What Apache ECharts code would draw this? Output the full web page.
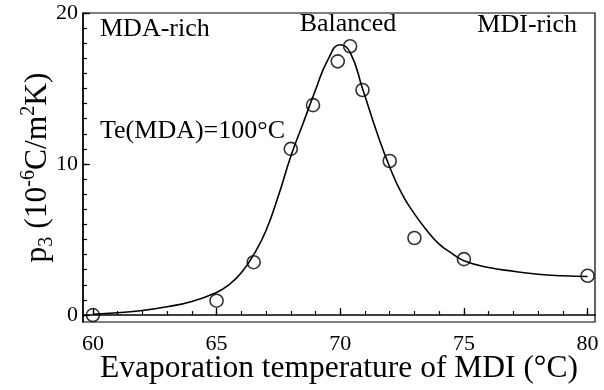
<!DOCTYPE html>
<html>
<head>
<meta charset="utf-8">
<script src="https://cdn.jsdelivr.net/npm/echarts@6/dist/echarts.min.js"></script>
<style>html,body{margin:0;padding:0;background:#fff;}#c{width:604px;height:390px;}</style>
</head>
<body>
<div id="c"></div>
<script>
// Measured points (circles)
var pointX = [60, 65, 66.5, 68, 68.9, 69.9, 70.4, 70.9, 72, 73, 75, 80];
var pointY = [0.0, 0.95, 3.5, 11.0, 13.9, 16.8, 17.8, 14.9, 10.2, 5.1, 3.7, 2.6];
// Fitted curve
var curveX = [60, 61, 62, 63, 64, 65, 65.5, 66, 66.5, 67, 67.5, 68, 68.5, 69, 69.5, 70.0, 70.4, 70.9, 71.5, 72.0, 72.5, 73, 73.5, 74, 74.5, 75, 76, 77, 78, 79, 80];
var curveY = [0.05, 0.15, 0.3, 0.55, 0.9, 1.5, 2.0, 2.8, 4.0, 5.6, 7.9, 10.5, 12.7, 14.9, 16.9, 17.9, 17.4, 15.0, 12.0, 9.8, 8.0, 6.7, 5.6, 4.7, 4.1, 3.6, 3.15, 2.9, 2.7, 2.6, 2.55];
var xMajor = [60, 65, 70, 75, 80];
var xMinor = [60,61,62,63,64,65,66,67,68,69,70,71,72,73,74,75,76,77,78,79,80];
var yMajor = [0, 10, 20];
var yMinor = [0,1,2,3,4,5,6,7,8,9,10,11,12,13,14,15,16,17,18,19,20];

var FONT = 'Liberation Serif';
var chart = echarts.init(document.getElementById('c'));
function zip(a, b) { return a.map(function (v, i) { return [v, b[i]]; }); }

var xBase = { type: 'value', min: 59.6, max: 80.3, position: 'bottom', splitLine: { show: false } };
var yBase = { type: 'value', min: -0.46, max: 20, position: 'left', splitLine: { show: false } };

chart.setOption({
  animation: false,
  grid: { left: 83, right: 9, top: 13, bottom: 65, show: true, borderColor: '#000', borderWidth: 1.2 },
  xAxis: [
    Object.assign({}, xBase, {
      axisLine: { show: true, lineStyle: { color: '#000', width: 1.5 } },
      axisTick: { show: true, inside: true, length: 7, customValues: xMajor, lineStyle: { color: '#000', width: 1.3 } },
      axisLabel: { show: true, customValues: xMajor, margin: 11, color: '#000', fontFamily: FONT, fontSize: 22 },
      name: 'Evaporation temperature of MDI (°C)', nameLocation: 'middle', nameGap: 31, nameMoveOverlap: false,
      nameTextStyle: { color: '#000', fontFamily: FONT, fontSize: 31.5 }
    }),
    Object.assign({}, xBase, {
      axisLine: { show: false },
      axisTick: { show: true, inside: true, length: 4, customValues: xMinor, lineStyle: { color: '#000', width: 1.2 } },
      axisLabel: { show: false }
    })
  ],
  yAxis: [
    Object.assign({}, yBase, {
      axisLine: { show: true, lineStyle: { color: '#000', width: 1.5 } },
      axisTick: { show: true, inside: true, length: 7, customValues: yMajor, lineStyle: { color: '#000', width: 1.3 } },
      axisLabel: { show: true, customValues: yMajor, margin: 5, color: '#000', fontFamily: FONT, fontSize: 22 },
      name: '{n|p}{sub|3}{n| (10}{sup|-6}{n|C/m}{sup|2}{n|K)}', nameLocation: 'middle', nameGap: 26, nameRotate: 90, nameMoveOverlap: false,
      nameTextStyle: {
        color: '#000', fontFamily: FONT, fontSize: 31.5,
        rich: {
          n: { fontFamily: FONT, fontSize: 31.5, color: '#000', lineHeight: 38, verticalAlign: 'middle' },
          sub: { fontFamily: FONT, fontSize: 20, color: '#000', lineHeight: 38, verticalAlign: 'bottom' },
          sup: { fontFamily: FONT, fontSize: 20, color: '#000', lineHeight: 38, verticalAlign: 'top' }
        }
      }
    }),
    Object.assign({}, yBase, {
      axisLine: { show: false },
      axisTick: { show: true, inside: true, length: 4, customValues: yMinor, lineStyle: { color: '#000', width: 1.2 } },
      axisLabel: { show: false }
    })
  ],
  series: [
    {
      type: 'line', xAxisIndex: 0, yAxisIndex: 0, data: zip(curveX, curveY),
      smooth: 0.5, symbol: 'none', lineStyle: { color: '#000', width: 1.6 }, z: 2
    },
    {
      type: 'scatter', xAxisIndex: 0, yAxisIndex: 0, data: zip(pointX, pointY),
      symbol: 'circle', symbolSize: 13,
      itemStyle: { color: 'rgba(0,0,0,0)', borderColor: '#000', borderWidth: 1.6 }, z: 3
    }
  ],
  graphic: [
    { type: 'text', x: 100, y: 29, style: { text: 'MDA-rich', fontFamily: FONT, fontSize: 26, fill: '#000', align: 'left', verticalAlign: 'middle' } },
    { type: 'text', x: 348, y: 24, style: { text: 'Balanced', fontFamily: FONT, fontSize: 26, fill: '#000', align: 'center', verticalAlign: 'middle' } },
    { type: 'text', x: 577, y: 25, style: { text: 'MDI-rich', fontFamily: FONT, fontSize: 26, fill: '#000', align: 'right', verticalAlign: 'middle' } },
    { type: 'text', x: 100, y: 131, style: { text: 'Te(MDA)=100°C', fontFamily: FONT, fontSize: 26, fill: '#000', align: 'left', verticalAlign: 'middle' } }
  ]
});
</script>
</body>
</html>
